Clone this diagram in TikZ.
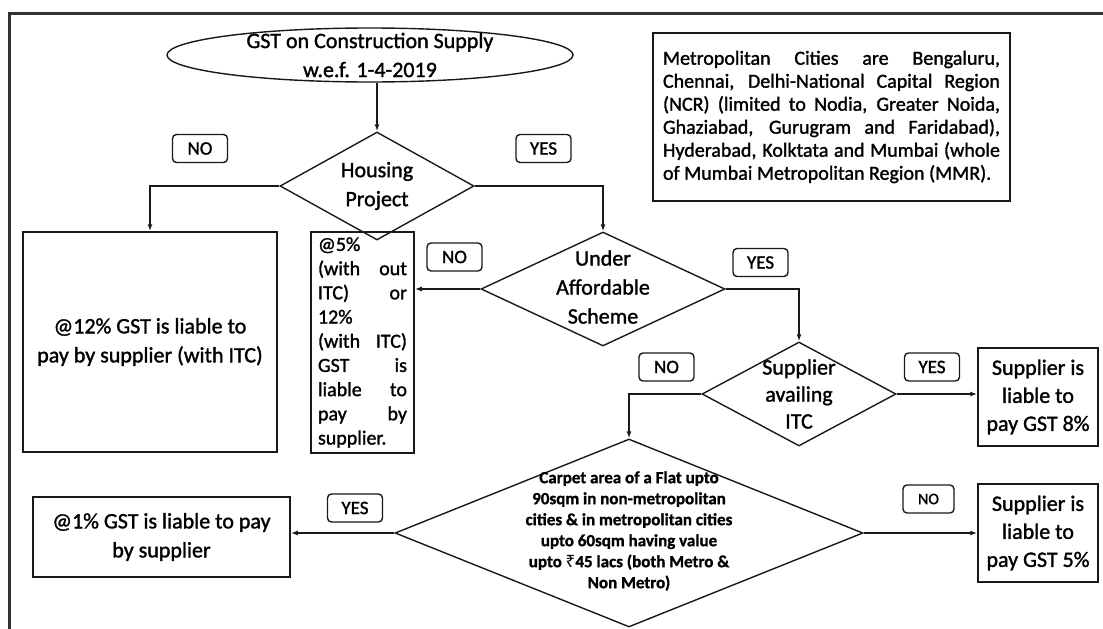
\documentclass[tikz,border=0pt]{standalone}
\usepackage{fontspec}
\setmainfont{Carlito}[UprightFeatures={FakeBold=1.4},BoldFeatures={FakeBold=1.2}]
\newfontfamily\rupeefont{Noto Sans}
\usetikzlibrary{shapes.geometric,arrows.meta}
\begin{document}
\begin{tikzpicture}[x=1pt,y=-1pt,
  box/.style={draw=black!90, line width=1.5pt, inner sep=0pt, align=center, font=\fontsize{22}{29}\selectfont},
  lab/.style={draw=black!90, rounded corners=4pt, line width=1.4pt, minimum width=55pt, minimum height=28pt, inner sep=0pt, font=\fontsize{19}{19}\selectfont},
  dia/.style={draw=black!90, diamond, line width=1.4pt, inner sep=0pt},
  txt/.style={align=center, inner sep=0pt, font=\fontsize{22}{29}\selectfont},
  conn/.style={draw=black!90, line width=1.4pt, -{Latex[length=7pt,width=5pt]}}
]
\useasboundingbox (0,0) rectangle (1103,629);
% frame
\draw[line width=3pt, black!80] (9,629) -- (9,13) -- (1103,13);

% start ellipse
\node[draw=black!90, ellipse, line width=1.4pt, minimum width=406pt, minimum height=54pt, inner sep=0pt] (ell) at (370,55) {};
\node[txt] (ellt) at (370,55) {GST on Construction Supply\\w.e.f. 1-4-2019};

% metro note
\node[box, minimum width=357pt, minimum height=168pt, font=\fontsize{20}{23}\selectfont] (metro) at (831.5,117) {\parbox{337pt}{%
\makebox[\linewidth][s]{Metropolitan Cities are Bengaluru,}\\
\makebox[\linewidth][s]{Chennai, Delhi-National Capital Region}\\
\makebox[\linewidth][s]{(NCR) (limited to Nodia, Greater Noida,}\\
\makebox[\linewidth][s]{Ghaziabad, Gurugram and Faridabad),}\\
\makebox[\linewidth][s]{Hyderabad, Kolktata and Mumbai (whole}\\
\makebox[\linewidth][l]{of Mumbai Metropolitan Region (MMR).}}};

% Housing project
\node[dia, minimum width=194pt, minimum height=108pt] (hp) at (377,186) {};
\node[txt] (hpt) at (377,186) {Housing\\Project};
\node[lab] (no1) at (200,148.5) {NO};
\node[lab] (yes1) at (543.5,148.5) {YES};

% 12% box
\node[box, minimum width=254pt, minimum height=220pt] (b12) at (150,342) {@12\% GST is liable to\\pay by supplier (with ITC)};

% 5% box
\node[box, minimum width=103pt, minimum height=221pt, font=\fontsize{20}{24.2}\selectfont] (b5) at (362.5,342.5) {\parbox{89pt}{%
\makebox[\linewidth][l]{@5\%}\\
\makebox[\linewidth][s]{(with out}\\
\makebox[\linewidth][s]{ITC) or}\\
\makebox[\linewidth][l]{12\%}\\
\makebox[\linewidth][s]{(with ITC)}\\
\makebox[\linewidth][s]{GST is}\\
\makebox[\linewidth][s]{liable to}\\
\makebox[\linewidth][s]{pay by}\\
\makebox[\linewidth][l]{supplier.}}};

% Under affordable scheme
\node[dia, minimum width=244pt, minimum height=114pt] (ua) at (603,289) {};
\node[txt] (uat) at (603,287) {Under\\Affordable\\Scheme};
\node[lab] (no2) at (454.5,257) {NO};
\node[lab] (yes2) at (760.5,262.5) {YES};

% Supplier availing ITC
\node[dia, minimum width=194pt, minimum height=104pt] (sa) at (799,394) {};
\node[txt, font=\fontsize{22}{27}\selectfont] (sat) at (799,394) {Supplier\\availing\\ITC};
\node[lab] (no3) at (666.5,367) {NO};
\node[lab] (yes3) at (932,367) {YES};

% Supplier 8% box
\node[box, minimum width=120pt, minimum height=98pt, font=\fontsize{22}{28}\selectfont] (b8) at (1038,397) {Supplier is\\liable to\\pay GST 8\%};

% Big diamond
\node[dia, minimum width=468pt, minimum height=188pt] (big) at (629,533) {};
\node[txt, font=\bfseries\fontsize{17}{21}\selectfont] (bigt) at (629,531) {Carpet area of a Flat upto\\90sqm in non-metropolitan\\cities \& in metropolitan cities\\upto 60sqm having value\\upto {\rupeefont\bfseries ₹}45 lacs (both Metro \&\\Non Metro)};
\node[lab] (yes4) at (355,508) {YES};
\node[lab, minimum width=51pt, font=\fontsize{16}{16}\selectfont] (no4) at (928.5,499) {NO};

% 1% box
\node[box, minimum width=257pt, minimum height=80pt] (b1) at (161.5,537) {@1\% GST is liable to pay\\by supplier};

% Supplier 5% box
\node[box, minimum width=120pt, minimum height=98pt, font=\fontsize{22}{28}\selectfont] (b5p) at (1038,533) {Supplier is\\liable to\\pay GST 5\%};

% connectors
\draw[conn] (hp.north |- ell.south) -- (hp.north);
\draw[conn] (hp.west) -| (b12.north);
\draw[conn] (hp.east) -| (ua.north);
\draw[conn] (ua.west) -- (ua.west -| b5.east);
\draw[conn] (ua.east) -| (sa.north);
\draw[conn] (sa.east) -- (sa.east -| b8.west);
\draw[conn] (sa.west) -| (big.north);
\draw[conn] (big.west) -- (big.west -| b1.east);
\draw[conn] (big.east) -- (big.east -| b5p.west);
\end{tikzpicture}
\end{document}
